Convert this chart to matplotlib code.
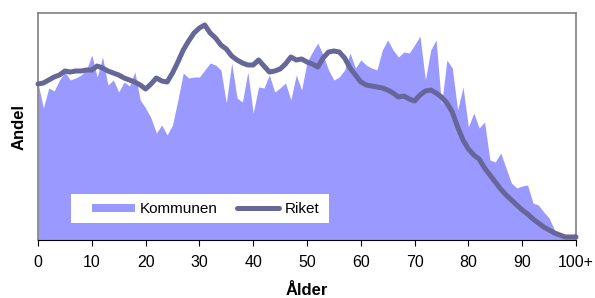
import numpy as np
import matplotlib
matplotlib.use("Agg")
from matplotlib import pyplot as plt
from matplotlib.patches import Patch, Rectangle
from matplotlib.lines import Line2D

plt.rcParams["font.family"] = ["Liberation Sans", "DejaVu Sans"]

ages = np.arange(0, 101)
tick_labels = ["0", "10", "20", "30", "40", "50", "60", "70", "80", "90", "100+"]

# share per age (arbitrary units)
kommunen = [
    157, 132, 152, 149, 160, 168, 160, 162, 165, 170,
    185, 163, 183, 155, 160, 148, 158, 154, 168, 140,
    132, 122, 107, 115, 105, 115, 140, 167, 162, 163,
    163, 170, 177, 175, 170, 137, 177, 142, 138, 168,
    127, 153, 152, 165, 148, 152, 157, 140, 165, 150,
    178, 188, 197, 185, 170, 160, 163, 170, 187, 172,
    180, 175, 172, 170, 190, 200, 190, 183, 188, 187,
    195, 204, 160, 190, 200, 135, 180, 172, 130, 153,
    113, 127, 112, 118, 80, 78, 87, 72, 57, 52,
    54, 55, 37, 35, 28, 22, 10, 7, 4, 3, 8,
]
riket = [
    156, 157, 160, 163, 165, 169, 168, 169, 169, 170,
    170, 174, 172, 169, 167, 165, 162, 160, 158, 155,
    151, 156, 162, 159, 158, 167, 178, 190, 199, 207,
    212, 215, 207, 202, 195, 191, 184, 180, 177, 175,
    175, 180, 174, 168, 169, 171, 176, 183, 180, 181,
    178, 176, 173, 182, 188, 189, 188, 182, 172, 165,
    158, 155, 154, 153, 152, 150, 147, 143, 144, 141,
    139, 145, 149, 150, 147, 143, 137, 128, 113, 100,
    91, 85, 81, 72, 65, 58, 51, 45, 40, 35,
    30, 26, 21, 17, 13, 10, 7, 5, 3, 3, 3,
]

fig = plt.figure(figsize=(5.95, 2.98), dpi=100)
ax = fig.add_axes([38 / 595, 58 / 298, 538 / 595, 227 / 298])

ax.fill_between(ages, 0, kommunen, color="#9999ff", lw=0, zorder=1)
ax.plot(ages, riket, color="#666699", lw=3.6, solid_capstyle="round",
        zorder=3, clip_on=False)

ax.set_xlim(0, 100)
ax.set_ylim(0, 227)
ax.set_xticks(np.arange(0, 101, 10))
ax.set_xticklabels(tick_labels, fontsize=11.5)
ax.set_yticks([])
ax.tick_params(axis="x", direction="out", length=4, width=0.8, pad=7)

for side in ("top", "right", "left"):
    ax.spines[side].set_color("#808080")
    ax.spines[side].set_linewidth(1.2)
ax.spines["bottom"].set_color("black")
ax.spines["bottom"].set_linewidth(0.8)

ax.set_xlabel("Ålder", fontsize=12, fontweight="bold", labelpad=9)
ax.set_ylabel("Andel", fontsize=12, fontweight="bold", labelpad=8)

# white box behind the legend
ax.add_patch(Rectangle((0.0613, 0.075), 0.48, 0.128, transform=ax.transAxes,
                       facecolor="white", edgecolor="none", zorder=4))

handles = [
    Patch(facecolor="#9999ff", edgecolor="none"),
    Line2D([], [], color="#666699", lw=3.6, solid_capstyle="round"),
]
leg = ax.legend(handles, ["Kommunen", "Riket"], ncol=2, loc="center left",
                bbox_to_anchor=(0.1, 0.135), frameon=False,
                fontsize=11, handlelength=2.8, handleheight=0.5,
                handletextpad=0.33, columnspacing=1.25,
                borderpad=0, borderaxespad=0)
leg.set_zorder(5)

fig.savefig("out.png", dpi=100)
